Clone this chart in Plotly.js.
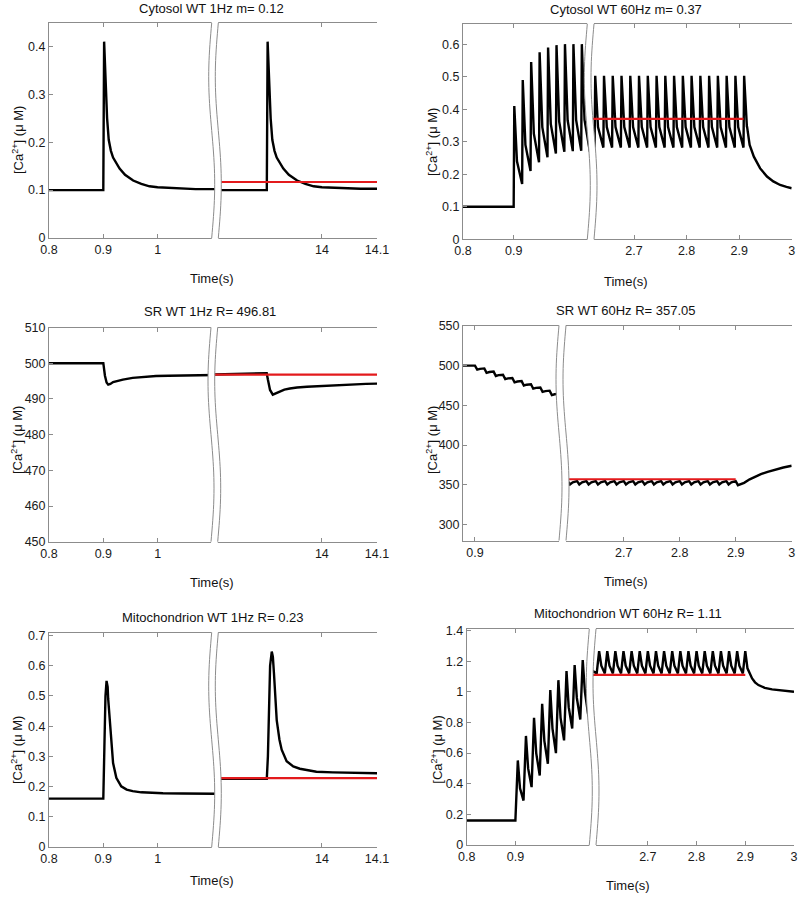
<!DOCTYPE html>
<html><head><meta charset="utf-8">
<script src="https://cdn.plot.ly/plotly-3.0.1.min.js"></script>
<style>html,body{margin:0;padding:0;background:#fff}#chart{width:800px;height:899px}</style>
</head><body><div id="chart"></div>
<script>
// ===================== DATA =====================
const panelTitles = ['Cytosol WT 1Hz m= 0.12', 'Cytosol WT 60Hz m= 0.37',
  'SR WT 1Hz R= 496.81', 'SR WT 60Hz R= 357.05',
  'Mitochondrion WT 1Hz R= 0.23', 'Mitochondrion WT 60Hz R= 1.11'];
const xLabel = 'Time(s)';
const yLabel = '[Ca<sup>2+</sup>] (\u03bc M)';

// ---- Panel 1: Cytosol 1 Hz ----
const cyt1LeftT  = [0.8, 0.9, 0.9015, 0.904, 0.907, 0.910, 0.914, 0.918, 0.924, 0.930, 0.940, 0.955, 0.970, 0.985, 1.0, 1.016, 1.04, 1.07, 1.11];
const cyt1LeftCa = [0.1, 0.1, 0.41, 0.33, 0.25, 0.205, 0.182, 0.168, 0.155, 0.145, 0.132, 0.12, 0.113, 0.108, 0.106, 0.105, 0.103, 0.102, 0.102];
const cyt1RightT  = [13.8, 13.9, 13.9015, 13.904, 13.907, 13.910, 13.914, 13.918, 13.924, 13.930, 13.940, 13.955, 13.970, 13.985, 14.0, 14.016, 14.04, 14.07, 14.11];
const cyt1RightCa = [0.1, 0.1, 0.41, 0.33, 0.25, 0.205, 0.182, 0.168, 0.155, 0.145, 0.132, 0.12, 0.113, 0.108, 0.106, 0.105, 0.104, 0.103, 0.103];
const cyt1MeanT = [13.8, 14.11];
const cyt1Mean = 0.117;

// ---- Panel 2: Cytosol 60 Hz ----
const cyt60LeftHeadT = [0.8], cyt60LeftHeadCa = [0.1];
const cyt60LeftStimT = [0.9, 0.9167, 0.9333, 0.95, 0.9667, 0.9833, 1.0, 1.0167, 1.0333];
const cyt60LeftBase  = [0.1, 0.17, 0.21, 0.237, 0.252, 0.264, 0.269, 0.271, 0.272];
const cyt60LeftPeak  = [0.41, 0.49, 0.545, 0.575, 0.59, 0.597, 0.6, 0.6, 0.6];
const cyt60LeftKnee  = [0.24, 0.29, 0.325, 0.345, 0.355, 0.362, 0.366, 0.367, 0.367];
const cyt60LeftTailT = [1.05, 1.06], cyt60LeftTailCa = [0.273, 0.273];
const cyt60RightHeadT = [2.61], cyt60RightHeadCa = [0.31];
const cyt60RightStimT = [2.625, 2.6417, 2.6583, 2.675, 2.6917, 2.7083, 2.725, 2.7417, 2.7583, 2.775, 2.7917, 2.8083, 2.825, 2.8417, 2.8583, 2.875, 2.8917, 2.9083];
const cyt60RightBase  = [0.282, 0.282, 0.282, 0.282, 0.282, 0.282, 0.282, 0.282, 0.282, 0.282, 0.282, 0.282, 0.282, 0.282, 0.282, 0.282, 0.282, 0.282];
const cyt60RightPeak  = [0.503, 0.503, 0.503, 0.503, 0.503, 0.503, 0.503, 0.503, 0.503, 0.503, 0.503, 0.503, 0.503, 0.503, 0.503, 0.503, 0.503, 0.503];
const cyt60RightKnee  = [0.345, 0.345, 0.345, 0.345, 0.345, 0.345, 0.345, 0.345, 0.345, 0.345, 0.345, 0.345, 0.345, 0.345, 0.345, 0.345, 0.345, 0.345];
const cyt60RightTailT  = [2.915, 2.92, 2.928, 2.94, 2.953, 2.965, 2.978, 2.99, 3.0];
const cyt60RightTailCa = [0.347, 0.29, 0.254, 0.218, 0.193, 0.178, 0.167, 0.161, 0.157];
const cyt60RiseT = 0.0012, cyt60KneeT = 0.0065;
const cyt60MeanT = [2.61, 2.9083];
const cyt60Mean = 0.37;

// ---- Panel 3: SR 1 Hz ----
const sr1LeftT  = [0.8, 0.9, 0.903, 0.906, 0.909, 0.913, 0.918, 0.926, 0.936, 0.954, 0.975, 0.997, 1.02, 1.046, 1.07, 1.11];
const sr1LeftCa = [500, 500, 496.5, 494.6, 494.0, 494.2, 494.7, 495.1, 495.4, 495.9, 496.2, 496.4, 496.5, 496.6, 496.65, 496.7];
const sr1RightT  = [13.8, 13.85, 13.9, 13.902, 13.906, 13.911, 13.916, 13.924, 13.932, 13.942, 13.955, 13.973, 14.0, 14.021, 14.05, 14.08, 14.11];
const sr1RightCa = [496.8, 497.0, 497.2, 495.5, 492.5, 491.2, 491.5, 492.2, 492.6, 492.9, 493.2, 493.4, 493.65, 493.8, 494.0, 494.2, 494.3];
const sr1MeanT = [13.8, 14.11];
const sr1Mean = 496.81;

// ---- Panel 4: SR 60 Hz ----
const sr60LeftHeadT = [0.87], sr60LeftHeadCa = [500];
const sr60LeftStimT = [0.9, 0.9167, 0.9333, 0.95, 0.9667, 0.9833, 1.0, 1.0167, 1.0333];
const sr60LeftBase  = [500, 496.5, 492.5, 488.5, 484.5, 480.5, 476.5, 472.5, 468.5];
const sr60LeftDip   = [495, 491, 487, 483, 479, 475, 471, 467, 463];
const sr60LeftKnee  = [496, 492, 488, 484, 480, 476, 472, 468, 464];
const sr60LeftTailT = [1.05, 1.06], sr60LeftTailCa = [464.5, 464.8];
const sr60RightHeadT = [2.585], sr60RightHeadCa = [352.5];
const sr60RightStimT = [2.6, 2.6167, 2.6333, 2.65, 2.6667, 2.6833, 2.7, 2.7167, 2.7333, 2.75, 2.7667, 2.7833, 2.8, 2.8167, 2.8333, 2.85, 2.8667, 2.8833, 2.9];
const sr60RightBase  = [354.7, 354.7, 354.7, 354.7, 354.7, 354.7, 354.7, 354.7, 354.7, 354.7, 354.7, 354.7, 354.7, 354.7, 354.7, 354.7, 354.7, 354.7, 354.7];
const sr60RightDip   = [350.5, 350.5, 350.5, 350.5, 350.5, 350.5, 350.5, 350.5, 350.5, 350.5, 350.5, 350.5, 350.5, 350.5, 350.5, 350.5, 350.5, 350.5, 349.6];
const sr60RightKnee  = [353.2, 353.2, 353.2, 353.2, 353.2, 353.2, 353.2, 353.2, 353.2, 353.2, 353.2, 353.2, 353.2, 353.2, 353.2, 353.2, 353.2, 353.2, 350.5];
const sr60RightTailT  = [2.915, 2.925, 2.933, 2.945, 2.957, 2.97, 2.985, 3.0];
const sr60RightTailCa = [352.5, 357, 360, 363.5, 366.4, 369, 371.8, 374];
const sr60DipT = 0.004, sr60KneeT = 0.009;
const sr60MeanT = [2.585, 2.9];
const sr60Mean = 357.05;

// ---- Panel 5: Mitochondrion 1 Hz ----
const mito1LeftT  = [0.8, 0.9, 0.902, 0.904, 0.906, 0.908, 0.909, 0.912, 0.915, 0.918, 0.924, 0.933, 0.943, 0.954, 0.97, 0.985, 1.01, 1.046, 1.08, 1.11];
const mito1LeftCa = [0.16, 0.16, 0.33, 0.5, 0.55, 0.53, 0.49, 0.41, 0.333, 0.278, 0.229, 0.201, 0.19, 0.185, 0.181, 0.179, 0.178, 0.177, 0.176, 0.176];
const mito1RightT  = [13.8, 13.9, 13.902, 13.904, 13.906, 13.909, 13.911, 13.913, 13.918, 13.923, 13.927, 13.936, 13.948, 13.96, 13.975, 13.99, 14.02, 14.05, 14.11];
const mito1RightCa = [0.226, 0.226, 0.3, 0.5, 0.6, 0.647, 0.63, 0.575, 0.42, 0.355, 0.322, 0.284, 0.267, 0.259, 0.253, 0.249, 0.247, 0.245, 0.244];
const mito1MeanT = [13.8, 14.11];
const mito1Mean = 0.228;

// ---- Panel 6: Mitochondrion 60 Hz ----
const mito60LeftHeadT = [0.8], mito60LeftHeadCa = [0.16];
const mito60LeftStimT = [0.9, 0.9167, 0.9333, 0.95, 0.9667, 0.9833, 1.0, 1.0167, 1.0333];
const mito60LeftBase  = [0.16, 0.29, 0.378, 0.454, 0.53, 0.6, 0.683, 0.76, 0.819];
const mito60LeftPeak  = [0.552, 0.712, 0.83, 0.921, 1.011, 1.076, 1.135, 1.175, 1.207];
const mito60LeftKnee  = [0.37, 0.5, 0.6, 0.68, 0.76, 0.83, 0.9, 0.96, 1.0];
const mito60LeftTailT = [1.05, 1.06], mito60LeftTailCa = [0.84, 1.05];
const mito60RightHeadT = [2.58], mito60RightHeadCa = [1.15];
const mito60RightStimT = [2.595, 2.6117, 2.6283, 2.645, 2.6617, 2.6783, 2.695, 2.7117, 2.7283, 2.745, 2.7617, 2.7783, 2.795, 2.8117, 2.8283, 2.845, 2.8617, 2.8783, 2.895];
const mito60RightBase  = [1.12, 1.12, 1.12, 1.12, 1.12, 1.12, 1.12, 1.12, 1.12, 1.12, 1.12, 1.12, 1.12, 1.12, 1.12, 1.12, 1.12, 1.12, 1.12];
const mito60RightPeak  = [1.265, 1.265, 1.265, 1.265, 1.265, 1.265, 1.265, 1.265, 1.265, 1.265, 1.265, 1.265, 1.265, 1.265, 1.265, 1.265, 1.265, 1.265, 1.265];
const mito60RightKnee  = [1.17, 1.17, 1.17, 1.17, 1.17, 1.17, 1.17, 1.17, 1.17, 1.17, 1.17, 1.17, 1.17, 1.17, 1.17, 1.17, 1.17, 1.17, 1.153];
const mito60RightTailT  = [2.914, 2.92, 2.927, 2.94, 2.955, 2.968, 2.985, 3.0];
const mito60RightTailCa = [1.087, 1.062, 1.044, 1.026, 1.016, 1.011, 1.005, 1.0];
const mito60RiseT = 0.005, mito60KneeT = 0.0095;
const mito60MeanT = [2.58, 2.9];
const mito60Mean = 1.11;

// ---- tick labels ----
const yTicks = [
  [0, 0.1, 0.2, 0.3, 0.4],
  [0, 0.1, 0.2, 0.3, 0.4, 0.5, 0.6],
  [450, 460, 470, 480, 490, 500, 510],
  [300, 350, 400, 450, 500, 550],
  [0, 0.1, 0.2, 0.3, 0.4, 0.5, 0.6, 0.7],
  [0, 0.2, 0.4, 0.6, 0.8, 1, 1.2, 1.4]];
const yTickText = [
  ['0', '0.1', '0.2', '0.3', '0.4'],
  ['0', '0.1', '0.2', '0.3', '0.4', '0.5', '0.6'],
  ['450', '460', '470', '480', '490', '500', '510'],
  ['300', '350', '400', '450', '500', '550'],
  ['0', '0.1', '0.2', '0.3', '0.4', '0.5', '0.6', '0.7'],
  ['0', '0.2', '0.4', '0.6', '0.8', '1', '1.2', '1.4']];
const xTicksLeft = [[0.8, 0.9, 1], [0.8, 0.9], [0.8, 0.9, 1], [0.9], [0.8, 0.9, 1], [0.8, 0.9]];
const xTickTextLeft = [['0.8', '0.9', '1'], ['0.8', '0.9'], ['0.8', '0.9', '1'], ['0.9'], ['0.8', '0.9', '1'], ['0.8', '0.9']];
const xTicksRight = [[14, 14.1], [2.7, 2.8, 2.9, 3], [14, 14.1], [2.7, 2.8, 2.9, 3], [14, 14.1], [2.7, 2.8, 2.9, 3]];
const xTickTextRight = [['14', '14.1'], ['2.7', '2.8', '2.9', '3'], ['14', '14.1'], ['2.7', '2.8', '2.9', '3'], ['14', '14.1'], ['2.7', '2.8', '2.9', '3']];

// ===================== BUILD =====================
// stimulus-driven trace: value before each stimulus, extreme after the rise, and a mid-decay value
function osc(headT, headCa, stimT, base, ext, dt, knee, kneeDt, tailT, tailCa) {
  const t = headT.slice(), c = headCa.slice();
  stimT.forEach((s, i) => {
    t.push(s); c.push(base[i]);
    t.push(s + dt); c.push(ext[i]);
    t.push(s + kneeDt); c.push(knee[i]);
  });
  return {t: t.concat(tailT), c: c.concat(tailCa)};
}
const cyt60L = osc(cyt60LeftHeadT, cyt60LeftHeadCa, cyt60LeftStimT, cyt60LeftBase, cyt60LeftPeak, cyt60RiseT, cyt60LeftKnee, cyt60KneeT, cyt60LeftTailT, cyt60LeftTailCa);
const cyt60R = osc(cyt60RightHeadT, cyt60RightHeadCa, cyt60RightStimT, cyt60RightBase, cyt60RightPeak, cyt60RiseT, cyt60RightKnee, cyt60KneeT, cyt60RightTailT, cyt60RightTailCa);
const sr60L = osc(sr60LeftHeadT, sr60LeftHeadCa, sr60LeftStimT, sr60LeftBase, sr60LeftDip, sr60DipT, sr60LeftKnee, sr60KneeT, sr60LeftTailT, sr60LeftTailCa);
const sr60R = osc(sr60RightHeadT, sr60RightHeadCa, sr60RightStimT, sr60RightBase, sr60RightDip, sr60DipT, sr60RightKnee, sr60KneeT, sr60RightTailT, sr60RightTailCa);
const mito60L = osc(mito60LeftHeadT, mito60LeftHeadCa, mito60LeftStimT, mito60LeftBase, mito60LeftPeak, mito60RiseT, mito60LeftKnee, mito60KneeT, mito60LeftTailT, mito60LeftTailCa);
const mito60R = osc(mito60RightHeadT, mito60RightHeadCa, mito60RightStimT, mito60RightBase, mito60RightPeak, mito60RiseT, mito60RightKnee, mito60KneeT, mito60RightTailT, mito60RightTailCa);

const series = [
  {l: {t: cyt1LeftT, c: cyt1LeftCa}, r: {t: cyt1RightT, c: cyt1RightCa}, mT: cyt1MeanT, m: cyt1Mean},
  {l: cyt60L, r: cyt60R, mT: cyt60MeanT, m: cyt60Mean},
  {l: {t: sr1LeftT, c: sr1LeftCa}, r: {t: sr1RightT, c: sr1RightCa}, mT: sr1MeanT, m: sr1Mean},
  {l: sr60L, r: sr60R, mT: sr60MeanT, m: sr60Mean},
  {l: {t: mito1LeftT, c: mito1LeftCa}, r: {t: mito1RightT, c: mito1RightCa}, mT: mito1MeanT, m: mito1Mean},
  {l: mito60L, r: mito60R, mT: mito60MeanT, m: mito60Mean}];

// layout geometry (pixels)
const W = 800, H = 899;
const geom = [
  {l: 49, r: 377, t: 23, b: 238, bl: 211.7, br: 218.3, xl: [0.8, 1.1057], xr: [13.806, 14.1], y: [0, 0.449],
   title: [211, 8.5], xlab: [211.7, 278.3], ylab: [18, 140]},
  {l: 463, r: 791.7, t: 24, b: 239.3, bl: 587.3, br: 594, xl: [0.8, 1.0519], xr: [2.6175, 3.0], y: [0, 0.662],
   title: [625.8, 9.5], xlab: [626, 281], ylab: [432, 142]},
  {l: 49, r: 377, t: 327.5, b: 541.7, bl: 211, br: 217.7, xl: [0.8, 1.1044], xr: [13.805, 14.1], y: [450, 510],
   title: [210, 311.7], xlab: [211.7, 582.3], ylab: [17, 440]},
  {l: 463, r: 791.7, t: 325.5, b: 540.5, bl: 559, br: 566, xl: [0.8786, 1.0563], xr: [2.5907, 3.0], y: [280, 550.5],
   title: [625.8, 310], xlab: [625.7, 581.7], ylab: [432, 440]},
  {l: 49, r: 377, t: 632.5, b: 847, bl: 211.7, br: 218.3, xl: [0.8, 1.1057], xr: [13.806, 14.1], y: [0, 0.71],
   title: [212.2, 617.7], xlab: [211.7, 880], ylab: [17, 750]},
  {l: 466.7, r: 794, t: 629, b: 845, bl: 589.3, br: 596, xl: [0.8, 1.0587], xr: [2.5867, 3.0], y: [0, 1.41],
   title: [627.5, 613.3], xlab: [628.3, 885], ylab: [436.7, 750]}];

const FONT = 'Liberation Sans, Arial, Helvetica, sans-serif';
const GRAY = '#8c8c8c';
const px = x => x / W, py = y => 1 - y / H;
const id = n => (n === 1 ? '' : String(n));

const traces = [], shapes = [], annotations = [];
const layout = {
  width: W, height: H, margin: {l: 0, r: 0, t: 0, b: 0},
  paper_bgcolor: '#fff', plot_bgcolor: '#fff', showlegend: false, hovermode: false,
  font: {family: FONT, size: 12.5, color: '#1a1a1a'}
};

function sinePts(x0, t, b, amp, ext) {
  const pts = [];
  const n = 40;
  for (let i = 0; i <= n; i++) {
    const s = i / n;
    pts.push([x0 - amp * Math.sin(2 * Math.PI * s), (t - ext) + s * (b - t + 2 * ext)]);
  }
  return pts;
}
const toPath = pts => pts.map((p, i) => (i ? 'L' : 'M') + px(p[0]).toFixed(5) + ',' + py(p[1]).toFixed(5)).join(' ');

geom.forEach((g, p) => {
  const xa = 2 * p + 1, xb = 2 * p + 2, ya = 2 * p + 1, yb = 2 * p + 2;
  const mid = (g.bl + g.br) / 2;
  const s = series[p];
  const axBase = {showgrid: false, zeroline: false, showline: true, linecolor: GRAY, linewidth: 1,
    ticks: 'inside', ticklen: 4, tickcolor: GRAY, tickwidth: 1, tickmode: 'array',
    tickfont: {family: FONT, size: 12.5, color: '#1a1a1a'}, fixedrange: true};
  layout['xaxis' + id(xa)] = Object.assign({}, axBase, {domain: [px(g.l), px(mid)], range: g.xl,
    anchor: 'y' + id(ya), mirror: 'ticks', tickvals: xTicksLeft[p], ticktext: xTickTextLeft[p]});
  layout['xaxis' + id(xb)] = Object.assign({}, axBase, {domain: [px(mid), px(g.r)], range: g.xr,
    anchor: 'y' + id(ya), mirror: 'ticks', tickvals: xTicksRight[p], ticktext: xTickTextRight[p]});
  layout['yaxis' + id(ya)] = Object.assign({}, axBase, {domain: [py(g.b), py(g.t)], range: g.y,
    anchor: 'x' + id(xa), tickvals: yTicks[p], ticktext: yTickText[p]});
  layout['yaxis' + id(yb)] = Object.assign({}, axBase, {domain: [py(g.b), py(g.t)], range: g.y,
    anchor: 'x' + id(xb), side: 'right', tickvals: yTicks[p], showticklabels: false});

  const lineBlack = {color: '#000', width: 2.4};
  traces.push({type: 'scatter', mode: 'lines', x: s.l.t, y: s.l.c, xaxis: 'x' + id(xa), yaxis: 'y' + id(ya), line: lineBlack});
  traces.push({type: 'scatter', mode: 'lines', x: s.r.t, y: s.r.c, xaxis: 'x' + id(xb), yaxis: 'y' + id(ya), line: lineBlack});
  traces.push({type: 'scatter', mode: 'lines', x: s.mT, y: [s.m, s.m], xaxis: 'x' + id(xb), yaxis: 'y' + id(ya),
    line: {color: '#e31a1c', width: 2.2}});

  // axis break: white band + two sine curves
  const leftPts = sinePts(g.bl, g.t, g.b, 3, 1.5);
  const rightPts = sinePts(g.br, g.t, g.b, 3, 1.5).reverse();
  shapes.push({type: 'path', xref: 'paper', yref: 'paper', layer: 'above',
    path: toPath(leftPts.concat(rightPts)) + ' Z', fillcolor: '#fff', line: {width: 0}});
  shapes.push({type: 'path', xref: 'paper', yref: 'paper', layer: 'above',
    path: toPath(sinePts(g.bl, g.t, g.b, 3, 0)), line: {color: GRAY, width: 1}});
  shapes.push({type: 'path', xref: 'paper', yref: 'paper', layer: 'above',
    path: toPath(sinePts(g.br, g.t, g.b, 3, 0)), line: {color: GRAY, width: 1}});

  annotations.push({text: panelTitles[p], xref: 'paper', yref: 'paper', x: px(g.title[0]), y: py(g.title[1]),
    xanchor: 'center', yanchor: 'middle', showarrow: false, font: {family: FONT, size: 13, color: '#111'}});
  annotations.push({text: xLabel, xref: 'paper', yref: 'paper', x: px(g.xlab[0]), y: py(g.xlab[1]),
    xanchor: 'center', yanchor: 'middle', showarrow: false, font: {family: FONT, size: 13, color: '#111'}});
  annotations.push({text: yLabel, xref: 'paper', yref: 'paper', x: px(g.ylab[0]), y: py(g.ylab[1]),
    xanchor: 'center', yanchor: 'middle', textangle: -90, showarrow: false, font: {family: FONT, size: 13, color: '#111'}});
});
layout.shapes = shapes;
layout.annotations = annotations;

Plotly.newPlot('chart', traces, layout, {staticPlot: true, displayModeBar: false});
</script>
</body></html>
